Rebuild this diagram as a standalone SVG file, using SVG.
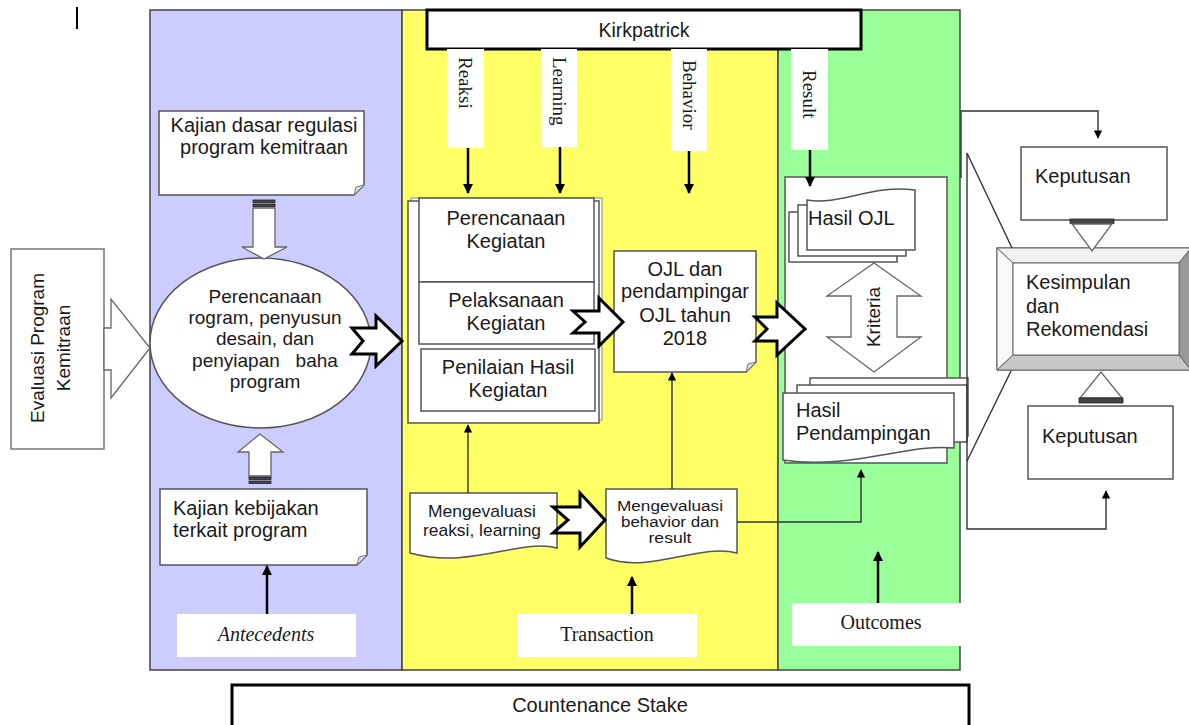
<svg xmlns="http://www.w3.org/2000/svg" width="1189" height="725" viewBox="0 0 1189 725">
<defs>
<style>
.sans{font-family:'Liberation Sans',Arial,sans-serif;fill:#1a1a1a}
.serif{font-family:'Liberation Serif','Times New Roman',serif;fill:#1a1a1a}
.box{fill:#fff;stroke:#555;stroke-width:1.5}
.panel{stroke:#444;stroke-width:1.5}
.hollow{fill:#fff;stroke:#666;stroke-width:1.3}
.notch{fill:#fff;stroke:#000;stroke-width:3;stroke-linejoin:miter}
.thick{fill:#fff;stroke:#000;stroke-width:3}
.conn{fill:none;stroke:#000;stroke-width:2.5}
.thin{fill:none;stroke:#333;stroke-width:1.4}
.fold{fill:#ddd;stroke:#777;stroke-width:1}
.lbl{fill:#fff}
.bar{fill:#444;stroke:#222;stroke-width:0.8}
</style>
<marker id="ah" viewBox="0 0 10 10" refX="9" refY="5" markerWidth="4" markerHeight="4" orient="auto" markerUnits="strokeWidth">
<path d="M0,0 L10,5 L0,10 Z" fill="#000"/>
</marker>
<marker id="ahs" viewBox="0 0 10 10" refX="9" refY="5" markerWidth="6" markerHeight="6" orient="auto" markerUnits="strokeWidth">
<path d="M0,0 L10,5 L0,10 Z" fill="#000"/>
</marker>
</defs>
<rect x="0" y="0" width="1189" height="725" fill="#fff"/>
<line x1="77" y1="7" x2="77" y2="29" stroke="#000" stroke-width="2"/>

<g id="panel-antecedents"><rect class="panel" x="150" y="10" width="252" height="660" fill="#ccccff"/></g>
<g id="panel-transaction"><rect class="panel" x="402" y="10" width="376" height="660" fill="#ffff66"/></g>
<g id="panel-outcomes"><rect class="panel" x="778" y="10" width="182" height="660" fill="#99ff99"/></g>

<g id="kirkpatrick">
<rect class="thick" x="427" y="10" width="434" height="39"/>
<text class="sans" x="644" y="37" font-size="19.5" text-anchor="middle">Kirkpatrick</text>
</g>
<g id="label-reaksi"><rect class="lbl" x="447" y="49" width="37" height="99"/>
<text class="serif" font-size="19" transform="translate(465,57) rotate(90)" dominant-baseline="central">Reaksi</text></g>
<g id="label-learning"><rect class="lbl" x="541" y="49" width="36" height="98"/>
<text class="serif" font-size="19" transform="translate(559,57) rotate(90)" dominant-baseline="central">Learning</text></g>
<g id="label-behavior"><rect class="lbl" x="671" y="49" width="36" height="102"/>
<text class="serif" font-size="19" transform="translate(689,60) rotate(90)" dominant-baseline="central">Behavior</text></g>
<g id="label-result"><rect class="lbl" x="791" y="49" width="37" height="101"/>
<text class="serif" font-size="19" transform="translate(809.5,70) rotate(90)" dominant-baseline="central">Result</text></g>

<g id="node-evaluasi">
<rect x="11" y="249" width="93" height="200" fill="#fff" stroke="#777" stroke-width="1.5"/>
<text class="sans" font-size="19" text-anchor="middle" dominant-baseline="central" transform="translate(37,348) rotate(-90)">Evaluasi Program</text>
<text class="sans" font-size="19" text-anchor="middle" dominant-baseline="central" transform="translate(63,348) rotate(-90)">Kemitraan</text>
</g>

<g id="node-kajian-dasar">
<path class="box" d="M159,111 H364 V185 L354,195 H159 Z"/>
<path class="fold" d="M364,185 L354,195 L356,187 Z"/>
<text class="sans" font-size="20" text-anchor="middle" x="264" y="132">Kajian dasar regulasi</text>
<text class="sans" font-size="20" text-anchor="middle" x="264" y="154">program kemitraan</text>
</g>

<g id="node-perencanaan-program">
<ellipse class="box" cx="260.5" cy="343" rx="110.5" ry="85"/>
<text class="sans" font-size="19" text-anchor="middle" x="265" y="303">Perencanaan</text>
<text class="sans" font-size="19" text-anchor="middle" x="265" y="324">rogram, penyusun</text>
<text class="sans" font-size="19" text-anchor="middle" x="265" y="345">desain, dan</text>
<text class="sans" font-size="19" text-anchor="middle" x="265" y="367" style="white-space:pre">penyiapan   baha</text>
<text class="sans" font-size="19" text-anchor="middle" x="265" y="388">program</text>
</g>

<g id="node-kajian-kebijakan">
<path class="box" d="M160,489 H367 V555 L357,565 H160 Z"/>
<path class="fold" d="M367,555 L357,565 L359,557 Z"/>
<text class="sans" font-size="20" x="173" y="515">Kajian kebijakan</text>
<text class="sans" font-size="20" x="173" y="537">terkait program</text>
</g>

<g id="label-antecedents"><rect class="lbl" x="177" y="614" width="179" height="43"/>
<text class="serif" font-size="20" font-style="italic" text-anchor="middle" x="266" y="641">Antecedents</text></g>

<g id="node-kegiatan">
<rect x="411" y="198" width="191" height="222" fill="#fff" stroke="#888" stroke-width="1"/>
<rect class="box" x="408" y="201" width="191" height="222"/>
<rect class="box" x="419" y="198" width="175" height="84"/>
<text class="sans" font-size="20" text-anchor="middle" x="506" y="225">Perencanaan</text>
<text class="sans" font-size="20" text-anchor="middle" x="506" y="248">Kegiatan</text>
<rect class="box" x="419" y="282" width="175" height="62"/>
<text class="sans" font-size="20" text-anchor="middle" x="506" y="307">Pelaksanaan</text>
<text class="sans" font-size="20" text-anchor="middle" x="506" y="330">Kegiatan</text>
<rect class="box" x="421" y="349" width="174" height="62"/>
<text class="sans" font-size="20" text-anchor="middle" x="508" y="374">Penilaian Hasil</text>
<text class="sans" font-size="20" text-anchor="middle" x="508" y="397">Kegiatan</text>
</g>

<g id="node-ojl">
<path class="box" d="M614,251 H756 V362 L746,372 H614 Z"/>
<path class="fold" d="M756,362 L746,372 L748,364 Z"/>
<text class="sans" font-size="20" text-anchor="middle" x="685" y="276">OJL dan</text>
<text class="sans" font-size="20" text-anchor="middle" x="685" y="298">pendampingar</text>
<text class="sans" font-size="20" text-anchor="middle" x="685" y="322">OJL tahun</text>
<text class="sans" font-size="20" text-anchor="middle" x="685" y="345">2018</text>
</g>

<g id="node-mengevaluasi-rl">
<path class="box" d="M410,493 H557 V548 C520,538 470,570 410,553 Z"/>
<text class="sans" font-size="17" text-anchor="middle" x="482" y="517" textLength="108" lengthAdjust="spacingAndGlyphs">Mengevaluasi</text>
<text class="sans" font-size="17" text-anchor="middle" x="482" y="536" textLength="118" lengthAdjust="spacingAndGlyphs">reaksi, learning</text>
</g>

<g id="node-mengevaluasi-br">
<path class="box" d="M606,489 H737 V553 C700,543 650,574 606,558 Z"/>
<text class="sans" font-size="14" text-anchor="middle" x="670" y="511" textLength="106" lengthAdjust="spacingAndGlyphs">Mengevaluasi</text>
<text class="sans" font-size="14" text-anchor="middle" x="670" y="527" textLength="98" lengthAdjust="spacingAndGlyphs">behavior dan</text>
<text class="sans" font-size="14" text-anchor="middle" x="670" y="543" textLength="43" lengthAdjust="spacingAndGlyphs">result</text>
</g>

<g id="label-transaction"><rect class="lbl" x="518" y="614" width="179" height="43"/>
<text class="serif" font-size="20" text-anchor="middle" x="607" y="641">Transaction</text></g>

<g id="node-hasil">
<rect class="box" x="785" y="177" width="162" height="286"/>
</g>

<g id="node-hasil-ojl">
<rect class="box" x="789" y="212" width="108" height="50"/>
<rect class="box" x="798" y="205" width="108" height="51"/>
<path class="box" d="M807,200 C840,206 872,184 915,190 V250 H807 Z"/>
<text class="sans" font-size="20" x="808" y="225">Hasil OJL</text>
</g>

<g id="node-kriteria">
<polygon class="hollow" points="874,263 921,296 897,296 897,337 921,337 874,372 827,337 851,337 851,296 827,296"/>
<text class="sans" font-size="19" text-anchor="middle" dominant-baseline="central" transform="translate(873,317) rotate(-90)">Kriteria</text>
</g>

<g id="node-hasil-pendampingan">
<rect class="box" x="810" y="378" width="158" height="58"/>
<rect class="box" x="797" y="385" width="170" height="57"/>
<path class="box" d="M783,393 H954 V448 C910,443 850,470 783,460 Z"/>
<text class="sans" font-size="20" x="796" y="417">Hasil</text>
<text class="sans" font-size="20" x="796" y="440">Pendampingan</text>
</g>

<g id="label-outcomes"><rect class="lbl" x="792" y="603" width="170" height="43"/>
<text class="serif" font-size="20" text-anchor="middle" x="881" y="629">Outcomes</text></g>

<g id="node-keputusan-top">
<rect class="box" x="1021" y="147" width="146" height="73"/>
<text class="sans" font-size="20" x="1035" y="183">Keputusan</text>
</g>

<g id="node-kesimpulan">
<rect x="997" y="248" width="194" height="122" fill="#fff" stroke="#555" stroke-width="1.2"/>
<polygon points="997,248 1191,248 1179,263 1013,263" fill="#f2f2f2" stroke="#666" stroke-width="1"/>
<polygon points="997,248 1013,263 1013,355 997,370" fill="#f8f8f8" stroke="#666" stroke-width="1"/>
<polygon points="997,370 1013,355 1179,355 1191,370" fill="#c8c8c8" stroke="#666" stroke-width="1"/>
<polygon points="1191,248 1179,263 1179,355 1191,370" fill="#999" stroke="#666" stroke-width="1"/>
<rect x="1013" y="263" width="166" height="92" fill="#fff" stroke="#666" stroke-width="1"/>
<text class="sans" font-size="20" x="1026" y="289">Kesimpulan</text>
<text class="sans" font-size="20" x="1026" y="313">dan</text>
<text class="sans" font-size="20" x="1026" y="336">Rekomendasi</text>
</g>

<g id="node-keputusan-bottom">
<rect class="box" x="1028" y="406" width="145" height="73"/>
<text class="sans" font-size="20" x="1042" y="443">Keputusan</text>
</g>

<g id="countenance">
<rect class="thick" x="232" y="685" width="737" height="44"/>
<text class="sans" font-size="20" text-anchor="middle" x="600" y="712">Countenance Stake</text>
</g>

<g id="connectors">
<polygon class="hollow" points="104,328 111,328 111,299 150,348 111,398 111,370 104,370"/>
<polygon class="hollow" points="253,208 275,208 275,247 287,247 264,259 242,247 253,247"/>
<rect class="bar" x="253" y="200" width="22" height="2.5"/>
<rect class="bar" x="253" y="204" width="22" height="2.5"/>
<polygon class="hollow" points="249,476 271,476 271,452 283,452 260,434 238,452 249,452"/>
<rect class="bar" x="249" y="477" width="22" height="2.5"/>
<rect class="bar" x="249" y="481" width="22" height="2.5"/>
<polygon class="notch" points="352,328 376,328 376,316 402,341 376,366 376,354 352,354 363,341"/>
<polygon class="notch" points="573,311 599,311 599,298 623,322 599,346 599,333 573,333 585,322"/>
<polygon class="notch" points="755,317 777,317 777,303 805,329 777,355 777,341 755,341 767,329"/>
<polygon class="notch" points="553,507 580,507 580,493 605,520 580,547 580,533 553,533 568,520"/>
<line class="conn" x1="468" y1="148" x2="468" y2="193" marker-end="url(#ah)"/>
<line class="conn" x1="560" y1="147" x2="560" y2="193" marker-end="url(#ah)"/>
<line class="conn" x1="689" y1="151" x2="689" y2="193" marker-end="url(#ah)"/>
<line class="conn" x1="810" y1="150" x2="810" y2="186" marker-end="url(#ah)"/>
<line class="conn" x1="267" y1="614" x2="267" y2="566" marker-end="url(#ah)"/>
<line class="conn" x1="632" y1="614" x2="632" y2="577" marker-end="url(#ah)"/>
<line class="conn" x1="878" y1="603" x2="878" y2="552" marker-end="url(#ah)"/>
<line class="thin" x1="468" y1="493" x2="468" y2="425" marker-end="url(#ahs)"/>
<line class="thin" x1="672" y1="489" x2="672" y2="373" marker-end="url(#ahs)"/>
<polyline class="thin" points="737,522 861,522 861,470" marker-end="url(#ahs)"/>
<polyline class="thin" points="961,178 961,111 1098,111 1098,138" marker-end="url(#ahs)"/>
<polyline class="thin" points="1012,248 967,153 967,529 1106,529 1106,491" marker-end="url(#ahs)"/>
<line class="thin" x1="967" y1="461" x2="1011" y2="371"/>
<rect class="bar" x="1070" y="219" width="44" height="4.5"/>
<polygon class="hollow" points="1072,224 1112,224 1092,251"/>
<polygon class="hollow" points="1080,398 1122,398 1101,372"/>
<rect class="bar" x="1079" y="398" width="44" height="5"/>
</g>
</svg>
